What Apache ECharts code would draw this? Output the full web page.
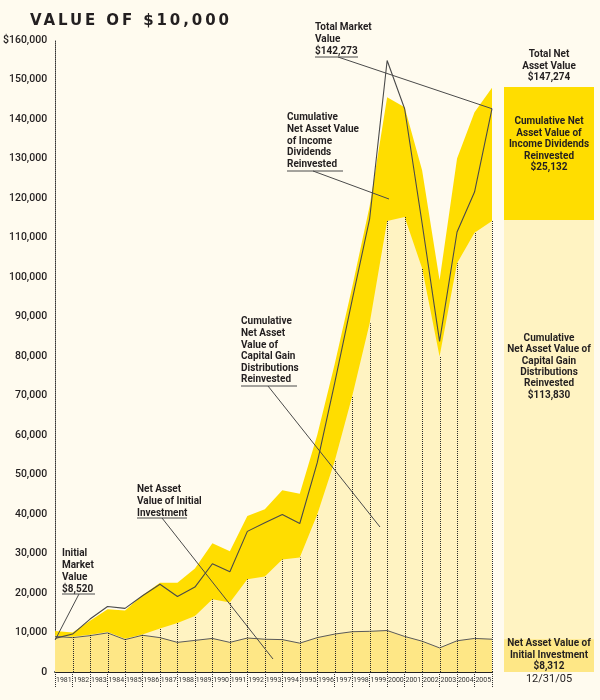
<!DOCTYPE html>
<html>
<head>
<meta charset="utf-8">
<script src="https://cdn.jsdelivr.net/npm/echarts@6/dist/echarts.min.js"></script>
<style>
html,body{margin:0;padding:0;background:#FFFBEF;}
#chart{width:600px;height:700px;}
</style>
</head>
<body>
<div id="chart"></div>
<script>
// ---- data ----
const years = ['1981','1982','1983','1984','1985','1986','1987','1988','1989','1990','1991','1992','1993','1994','1995','1996','1997','1998','1999','2000','2001','2002','2003','2004','2005'];
// index 0 = start of period, then each year-end 1981..2005
const initialInvestment = [9000, 8700, 9200, 9900, 8200, 9300, 8700, 7500, 8000, 8500, 7500, 8600, 8300, 8200, 7300, 8700, 9600, 10200, 10300, 10500, 9000, 7800, 6100, 7900, 8500, 8300];
const capitalGainsTop   = [9200, 8900, 9400, 10100, 8400, 9500, 11000, 12400, 14200, 18400, 17600, 23500, 24200, 28500, 29000, 39900, 53400, 69800, 88300, 114200, 115200, 102200, 79900, 103500, 111200, 114200];
const totalNetAsset     = [10400, 10000, 13000, 15900, 15600, 19400, 22600, 22600, 26200, 32600, 30600, 39500, 41200, 46000, 45100, 60000, 78000, 97500, 118000, 145500, 143000, 127000, 99200, 130000, 141700, 147900];
const totalMarket       = [8520, 9600, 13400, 16600, 16100, 19300, 22200, 19100, 21500, 27400, 25400, 35600, 37800, 39900, 37600, 53000, 73200, 94200, 114800, 154800, 142600, 113600, 83700, 111400, 121500, 142600];
// right-hand summary bar (12/31/05), levels as drawn
const panelInitial = [8312];
const panelCapTop  = [114400];
const panelTotal   = [148100];
const yTicks = [0, 10000, 20000, 30000, 40000, 50000, 60000, 70000, 80000, 90000, 100000, 110000, 120000, 130000, 140000, 150000, 160000];

const TITLE = 'VALUE OF $10,000';
const BRIGHT = '#FFDD00', LIGHT = '#FFF3C2', MEDIUM = '#FEE786', BG = '#FFFBEF', INK = '#231F20', LINE = '#4A4A4A';
const FONT = 'Roboto, "Open Sans", sans-serif';

// widely tracked title lettering (as in the reference); state fully restored afterwards
(function () {
  const proto = CanvasRenderingContext2D.prototype;
  const orig = proto.fillText;
  proto.fillText = function (text, x, y, w) {
    if (text === TITLE && 'letterSpacing' in this) {
      const f = this.font;
      this.save();
      this.letterSpacing = '2.9px';
      this.font = f;
      const r = arguments.length > 3 ? orig.call(this, text, x, y, w) : orig.call(this, text, x, y);
      this.restore();
      this.letterSpacing = '0px';
      this.font = f;
      return r;
    }
    return orig.apply(this, arguments);
  };
})();

const pts = arr => arr.map((v, i) => [i, v]);

const chart = echarts.init(document.getElementById('chart'), null, {renderer: 'canvas'});

function fmtY(v) {
  if (v === 0) return '0';
  const s = v.toLocaleString('en-US');
  return v === yTicks[yTicks.length - 1] ? '$' + s : s;
}

function txt(x, y, text, opts) {
  opts = opts || {};
  return {
    type: 'text', x: x, y: y, z: 100, silent: true,
    style: {
      text: text, fill: INK,
      font: (opts.weight || 'bold') + ' ' + (opts.size || 10) + 'px ' + FONT,
      textAlign: opts.align || 'left', textVerticalAlign: 'top',
      lineHeight: opts.lh || 11.6
    }
  };
}
function seg(x1, y1, x2, y2) {
  return {type: 'line', z: 100, silent: true, shape: {x1: x1, y1: y1, x2: x2, y2: y2}, style: {stroke: LINE, lineWidth: 1}};
}

const option = {
  backgroundColor: BG,
  animation: false,
  title: {
    text: TITLE, left: 25, top: 9,
    textStyle: {fontFamily: '"DejaVu Sans", sans-serif', fontWeight: 'bold', fontSize: 15, color: INK}
  },
  grid: [
    {left: 52, right: 108, top: 40, bottom: 28},
    {left: 504, width: 90, top: 40, bottom: 28}
  ],
  xAxis: [
    {
      type: 'value', gridIndex: 0, min: 0, max: 25, interval: 1,
      axisLine: {show: true, onZero: false, lineStyle: {color: '#222', width: 2}},
      axisTick: {show: true, length: 16, lineStyle: {color: '#333', type: [1, 1], width: 1}},
      axisLabel: {show: false}, splitLine: {show: false}
    },
    {
      type: 'category', gridIndex: 0, data: years, boundaryGap: true, position: 'bottom',
      axisLine: {show: false}, axisTick: {show: false},
      axisLabel: {interval: 0, fontSize: 7, color: '#333', margin: 5, fontFamily: FONT}
    },
    {type: 'category', gridIndex: 1, data: ['12/31/05'], show: false}
  ],
  yAxis: [
    {
      type: 'value', gridIndex: 0, min: 0, max: 160000, interval: 10000,
      axisLine: {show: true, lineStyle: {color: '#333', type: [1, 1], width: 1}},
      axisTick: {show: false}, splitLine: {show: false},
      axisLabel: {formatter: fmtY, fontSize: 10.5, fontWeight: 500, color: INK, margin: 8, fontFamily: FONT}
    },
    {type: 'value', gridIndex: 1, min: 0, max: 160000, show: false}
  ],
  series: [
    {
      name: 'Total Net Asset Value', type: 'line', xAxisIndex: 0, yAxisIndex: 0, z: 1,
      data: pts(totalNetAsset), symbol: 'none', lineStyle: {width: 0},
      areaStyle: {color: BRIGHT, opacity: 1}
    },
    {
      name: 'Capital Gain Distributions', type: 'line', xAxisIndex: 0, yAxisIndex: 0, z: 2,
      data: pts(capitalGainsTop), symbol: 'none', lineStyle: {width: 0},
      areaStyle: {color: LIGHT, opacity: 1}
    },
    {
      name: 'Initial Investment', type: 'line', xAxisIndex: 0, yAxisIndex: 0, z: 3,
      data: pts(initialInvestment), symbol: 'none', lineStyle: {width: 1, color: '#5a5a5a'},
      areaStyle: {color: MEDIUM, opacity: 1}
    },
    {
      name: 'year lines', type: 'custom', xAxisIndex: 0, yAxisIndex: 0, z: 4, silent: true,
      data: pts(capitalGainsTop),
      renderItem: function (params, api) {
        const k = api.value(0);
        if (k === 0) return null;
        const p0 = api.coord([k, 0]);
        const p1 = api.coord([k, api.value(1)]);
        const x = Math.round(p0[0]) + 0.5;
        return {type: 'line', shape: {x1: x, y1: p0[1], x2: x, y2: p1[1]},
          style: {stroke: '#2a2a2a', lineWidth: 1, lineDash: [1, 1]}};
      }
    },
    {
      name: 'Total Market Value', type: 'line', xAxisIndex: 0, yAxisIndex: 0, z: 5,
      data: pts(totalMarket), symbol: 'none', lineStyle: {width: 1.1, color: LINE}
    },
    {
      type: 'bar', xAxisIndex: 2, yAxisIndex: 1, data: panelTotal, barWidth: '100%', barGap: '-100%',
      itemStyle: {color: BRIGHT}, silent: true, z: 1
    },
    {
      type: 'bar', xAxisIndex: 2, yAxisIndex: 1, data: panelCapTop, barWidth: '100%', barGap: '-100%',
      itemStyle: {color: LIGHT}, silent: true, z: 2
    },
    {
      type: 'bar', xAxisIndex: 2, yAxisIndex: 1, data: panelInitial, barWidth: '100%', barGap: '-100%',
      itemStyle: {color: MEDIUM}, silent: true, z: 3
    }
  ]
};
chart.setOption(option);

// annotation leader lines anchored in data space
const mEnd = chart.convertToPixel({xAxisIndex: 0, yAxisIndex: 0}, [25, totalMarket[25]]);
const iStart = chart.convertToPixel({xAxisIndex: 0, yAxisIndex: 0}, [0, 8100]);

const graphics = [
  // Total market value
  txt(315, 21, 'Total Market\nValue\n$142,273', {lh: 12}),
  seg(315, 57, 358, 57), seg(338, 57, mEnd[0], mEnd[1]),
  // Income dividends
  txt(287, 112, 'Cumulative\nNet Asset Value\nof Income\nDividends\nReinvested', {lh: 11.6}),
  seg(287, 171, 343, 171), seg(313, 171, 389, 199),
  // Capital gains
  txt(241, 316, 'Cumulative\nNet Asset\nValue of\nCapital Gain\nDistributions\nReinvested', {lh: 11.6}),
  seg(241, 386, 297, 386), seg(268, 386, 380, 527),
  // Initial investment NAV
  txt(137, 483, 'Net Asset\nValue of Initial\nInvestment', {lh: 12}),
  seg(137, 518, 187, 518), seg(162, 518, 273, 659),
  // Initial market value
  txt(62, 547, 'Initial\nMarket\nValue\n$8,520', {lh: 12}),
  seg(62, 594, 95, 594), seg(79, 594, iStart[0], iStart[1]),
  // Right panel
  txt(549, 49, 'Total Net\nAsset Value\n$147,274', {align: 'center', lh: 11.5}),
  txt(549, 116, 'Cumulative Net\nAsset Value of\nIncome Dividends\nReinvested\n$25,132', {align: 'center', lh: 11.5}),
  txt(549, 333, 'Cumulative\nNet Asset Value of\nCapital Gain\nDistributions\nReinvested\n$113,830', {align: 'center', lh: 11.3}),
  txt(549, 638, 'Net Asset Value of\nInitial Investment\n$8,312', {align: 'center', lh: 11.5}),
  txt(549, 673, '12/31/05', {align: 'center', weight: 'normal', size: 11, lh: 13})
];
chart.setOption({graphic: graphics});
</script>
</body>
</html>
